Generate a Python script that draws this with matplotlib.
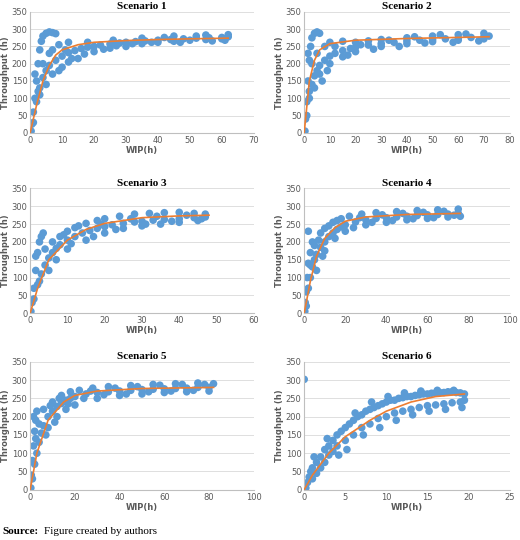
import matplotlib.pyplot as plt

blue = "#5B9BD5"
orange = "#ED7D31"

titles = ["Scenario 1", "Scenario 2", "Scenario 3", "Scenario 4", "Scenario 5", "Scenario 6"]
xmax = [70, 80, 60, 100, 100, 25]
xstep = [10, 10, 10, 20, 20, 5]

# scatter points (x = WIP, y = throughput)
s1_points = [(0.3, 5), (0.5, 25), (1, 60), (1.5, 100), (2, 150), (2.5, 200), (3, 240), (3.5, 265), (4, 280),
             (5, 288), (6, 292), (7, 290), (8, 287), (1, 30), (2, 90), (3, 130), (4, 160), (5, 180), (6, 195),
             (8, 210), (10, 222), (12, 232), (14, 238), (16, 244), (18, 248), (20, 250), (22, 254), (25, 257),
             (28, 260), (30, 262), (33, 264), (36, 266), (40, 268), (44, 270), (48, 272), (52, 274), (56, 275),
             (60, 276), (62, 278), (10, 190), (12, 205), (15, 215), (20, 235), (25, 245), (30, 250), (35, 258),
             (40, 262), (45, 265), (50, 268), (55, 270), (60, 272), (3, 110), (7, 240), (9, 255), (12, 262),
             (18, 262), (26, 268), (35, 274), (45, 280), (55, 283), (62, 284), (1.5, 170), (2.5, 120),
             (4, 200), (5, 140), (6, 230), (7, 170), (9, 180), (11, 240), (13, 215), (17, 228), (23, 242),
             (27, 252), (32, 258), (38, 262), (42, 276), (47, 262), (52, 280), (57, 266), (61, 268)]
s2_points = [(0.3, 5), (0.5, 40), (1, 90), (1.5, 150), (2, 210), (2.5, 250), (3, 275), (4, 288), (5, 292),
             (6, 288), (1, 50), (2, 100), (3, 140), (4, 165), (5, 180), (6, 195), (8, 210), (10, 222), (12, 230),
             (15, 238), (18, 244), (20, 248), (25, 254), (30, 258), (35, 262), (40, 266), (45, 268), (50, 270),
             (55, 272), (60, 274), (65, 276), (70, 278), (72, 280), (8, 250), (10, 262), (15, 265), (20, 262),
             (25, 266), (30, 270), (40, 275), (50, 280), (60, 284), (70, 288), (6, 170), (10, 200), (15, 220),
             (20, 235), (30, 250), (40, 258), (50, 264), (60, 268), (70, 272), (1.5, 230), (2, 120),
             (3, 200), (4, 130), (5, 230), (7, 150), (9, 180), (12, 250), (17, 225), (22, 255), (27, 242),
             (33, 268), (37, 250), (43, 278), (47, 260), (53, 284), (58, 262), (63, 286), (68, 266)]
s3_points = [(0.2, 5), (0.5, 30), (1, 70), (1.5, 120), (2, 170), (2.5, 200), (3, 215), (3.5, 225), (1, 40),
             (2, 80), (3, 110), (4, 135), (5, 155), (6, 170), (7, 182), (8, 192), (10, 205), (12, 215), (14, 225),
             (16, 232), (18, 238), (20, 243), (22, 248), (25, 252), (28, 256), (30, 258), (33, 261), (36, 263),
             (40, 265), (44, 268), (47, 270), (6, 200), (8, 215), (10, 230), (12, 240), (15, 252), (18, 260),
             (20, 265), (24, 272), (28, 278), (32, 280), (36, 282), (40, 283), (44, 280), (47, 278), (5, 120),
             (10, 180), (15, 205), (20, 225), (25, 238), (30, 245), (35, 250), (40, 255), (45, 260),
             (1.5, 160), (2.5, 90), (4, 180), (7, 150), (9, 220), (11, 195), (13, 245), (17, 215), (19, 250),
             (23, 235), (27, 265), (31, 250), (34, 272), (38, 258), (42, 275), (46, 265)]
s4_points = [(0.3, 5), (0.5, 30), (1, 60), (1.5, 100), (2, 140), (3, 170), (4, 200), (2, 70), (3, 100),
             (4, 130), (5, 150), (6, 165), (8, 185), (10, 200), (12, 215), (14, 225), (16, 235), (18, 242),
             (20, 248), (25, 256), (30, 262), (35, 266), (40, 268), (45, 270), (50, 272), (55, 274), (60, 276),
             (65, 277), (70, 278), (75, 280), (8, 225), (10, 238), (14, 255), (18, 265), (22, 272), (28, 278),
             (35, 282), (45, 285), (55, 288), (65, 290), (75, 292), (6, 120), (10, 175), (15, 210), (20, 230),
             (30, 248), (40, 255), (50, 262), (60, 266), (70, 270), (76, 272), (1, 20), (2, 230),
             (3, 135), (5, 190), (7, 205), (9, 160), (12, 245), (16, 260), (24, 240), (27, 268), (33, 255),
             (38, 276), (43, 260), (48, 280), (53, 265), (58, 283), (63, 268), (68, 286), (73, 275)]
s5_points = [(0.3, 5), (0.5, 40), (1, 80), (1.5, 120), (2, 160), (2.5, 190), (3, 215), (1, 30), (2, 70),
             (3, 100), (4, 130), (5, 155), (6, 175), (8, 200), (10, 215), (12, 228), (14, 236), (16, 245),
             (18, 250), (20, 255), (25, 262), (30, 266), (35, 268), (40, 270), (45, 272), (50, 274), (55, 275),
             (60, 276), (65, 277), (70, 278), (75, 280), (80, 280), (10, 240), (14, 258), (18, 268), (22, 272),
             (28, 278), (35, 282), (45, 285), (55, 288), (65, 290), (75, 292), (82, 290), (8, 170), (12, 200),
             (16, 220), (20, 232), (30, 250), (40, 258), (50, 262), (60, 266), (70, 268), (80, 270),
             (1.5, 200), (2.5, 140), (4, 180), (6, 220), (7, 150), (9, 230), (11, 185), (13, 250), (17, 235),
             (24, 250), (27, 270), (33, 260), (38, 278), (43, 262), (48, 282), (53, 268), (58, 286), (63, 270),
             (68, 288), (73, 272), (78, 288)]
s6_points = [(0, 302), (0.2, 5), (0.4, 20), (0.6, 35), (0.8, 50), (1, 60), (1, 30), (1.5, 75), (1.5, 45),
             (2, 90), (2, 60), (2.5, 110), (2.5, 75), (3, 120), (3, 95), (3.5, 135), (3.5, 105), (4, 150),
             (4, 120), (4.5, 160), (5, 170), (5, 135), (5.5, 180), (6, 190), (6, 150), (6.5, 200), (7, 205),
             (7, 170), (7.5, 215), (8, 220), (8, 180), (8.5, 225), (9, 230), (9, 195), (9.5, 235), (10, 240),
             (10, 200), (10.5, 245), (11, 245), (11, 210), (11.5, 250), (12, 252), (12, 215), (12.5, 255),
             (13, 255), (13, 220), (13.5, 258), (14, 260), (14, 225), (14.5, 262), (15, 262), (15, 230),
             (15.5, 264), (16, 265), (16, 232), (16.5, 266), (17, 266), (17, 235), (17.5, 268), (18, 268),
             (18, 238), (18.5, 266), (19, 265), (19, 240), (19.5, 262), (19.5, 245),
             (1.2, 90), (2.8, 140), (4.2, 95), (5.2, 110), (6.2, 210), (7.2, 150), (8.2, 240), (9.2, 170),
             (10.2, 255), (11.2, 190), (12.2, 265), (13.2, 205), (14.2, 270), (15.2, 215), (16.2, 272),
             (17.2, 220), (18.2, 272), (19.2, 225)]

# fitted curves
c1 = [(0, 0), (2, 80), (4, 150), (6, 195), (8, 225), (10, 240), (15, 255), (20, 262), (30, 267), (40, 270), (50, 272), (62, 274)]
c2 = [(0, 0), (2, 150), (4, 210), (6, 240), (10, 258), (20, 268), (40, 273), (72, 278)]
c3 = [(0, 0), (2, 70), (5, 150), (10, 205), (15, 235), (20, 252), (30, 268), (40, 273), (48, 275)]
c4 = [(0, 0), (3, 90), (6, 160), (10, 210), (15, 240), (20, 258), (30, 270), (50, 277), (76, 280)]
c5 = [(0, 0), (3, 100), (8, 190), (15, 240), (20, 258), (30, 270), (50, 277), (82, 280)]
c6 = [(0, 0), (1, 40), (3, 100), (5, 145), (8, 190), (10, 215), (13, 240), (16, 255), (19.5, 262)]

points = [s1_points, s2_points, s3_points, s4_points, s5_points, s6_points]
curves = [c1, c2, c3, c4, c5, c6]

fig = plt.figure(figsize=(5.2, 5.4), dpi=100)
lefts = [0.058, 0.585]
widths = [0.43, 0.395]
rows = [(0.754, 0.224), (0.42, 0.231), (0.093, 0.237)]

for i in range(6):
    r, c = divmod(i, 2)
    ax = fig.add_axes([lefts[c], rows[r][0], widths[c], rows[r][1]])
    xs, ys = zip(*points[i])
    ax.scatter(xs, ys, s=30, color=blue, edgecolors="none", zorder=2)
    cx, cy = zip(*curves[i])
    ax.plot(cx, cy, color=orange, lw=1.2, zorder=3)
    ax.set_xlim(0, xmax[i])
    ax.set_ylim(0, 350)
    ax.set_xticks(range(0, xmax[i] + 1, xstep[i]))
    ax.set_yticks(range(0, 351, 50))
    ax.tick_params(labelsize=6, length=0, colors="#595959", pad=2)
    ax.grid(axis="y", color="#D9D9D9", lw=0.6, zorder=0)
    for s in ["top", "right"]:
        ax.spines[s].set_visible(False)
    ax.spines["left"].set_color("#BFBFBF")
    ax.spines["bottom"].set_color("#BFBFBF")
    ax.set_title(titles[i], fontsize=8, fontweight="bold", family="Liberation Serif", pad=2)
    ax.set_xlabel("WIP(h)", fontsize=6, color="#595959", fontweight="bold", labelpad=1)
    ax.set_ylabel("Throughput (h)", fontsize=6, color="#595959", fontweight="bold", labelpad=1)

fig.text(0.005, 0.012, "Source:", fontsize=8, fontweight="bold", family="Liberation Serif")
fig.text(0.085, 0.012, "Figure created by authors", fontsize=8, family="Liberation Serif")

fig.savefig("out.png", dpi=100)
